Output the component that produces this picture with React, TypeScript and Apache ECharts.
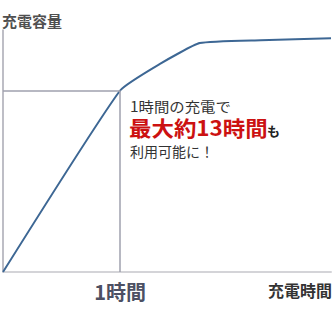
import React, { useEffect, useRef } from "react";
import * as echarts from "echarts";

const hours = [0, 1, 1.34, 1.68, 2.2, 2.8];
const capacity = [0, 75, 86, 94.6, 95.8, 96.6];
const markHour = 1;
const markCapacity = 75;
const xTickLabels: Record<number, string> = { 1: "1時間" };
const yAxisTitle = "充電容量";
const xAxisTitle = "充電時間";
const noteLine1 = "1時間の充電で";
const noteHighlight = "最大約13時間";
const noteTail = "も";
const noteLine3 = "利用可能に！";

export default function App() {
  const ref = useRef<HTMLDivElement>(null);
  useEffect(() => {
    if (!ref.current) return;
    const chart = echarts.init(ref.current, undefined, { renderer: "svg" });
    const font = "'Noto Sans CJK JP', 'Noto Sans', sans-serif";
    const txt = (x: number, y: number, text: string, f: string, fill: string, scaleX = 1) => ({
      type: "text",
      x,
      y,
      scaleX,
      style: { text, font: f, fill, align: "left", verticalAlign: "middle" },
    });
    chart.setOption({
      animation: false,
      grid: { left: 2, right: 0, top: 30, bottom: 38 },
      xAxis: {
        type: "value",
        min: 0,
        max: 2.8,
        interval: 1,
        axisLine: { show: true, lineStyle: { color: "#d4d4d8", width: 2 } },
        axisTick: { show: false },
        splitLine: { show: false },
        axisLabel: {
          formatter: (v: number) => xTickLabels[v] ?? "",
          fontFamily: font,
          fontSize: 20,
          fontWeight: "bold",
          color: "#4d5063",
          margin: 9,
        },
      },
      yAxis: {
        type: "value",
        min: 0,
        max: 100,
        axisLine: { show: true, lineStyle: { color: "#a9a9b3", width: 1.5 } },
        axisTick: { show: false },
        axisLabel: { show: false },
        splitLine: { show: false },
      },
      series: [
        {
          type: "line",
          data: hours.map((h, i) => [h, capacity[i]]),
          showSymbol: false,
          smooth: 0.15,
          lineStyle: { color: "#3d6794", width: 2 },
          markLine: {
            silent: true,
            symbol: "none",
            label: { show: false },
            lineStyle: { color: "#9fa0ae", width: 1.5, type: "solid" },
            data: [
              [{ coord: [0, markCapacity] }, { coord: [markHour, markCapacity] }],
              [{ coord: [markHour, 0] }, { coord: [markHour, markCapacity] }],
            ],
          },
        },
      ],
      graphic: [
        txt(2, 20, yAxisTitle, `bold 15px ${font}`, "#505050"),
        txt(268, 290, xAxisTitle, `bold 16px ${font}`, "#333333"),
        txt(130, 106, noteLine1, `14px ${font}`, "#333333", 1.1),
        txt(129, 127, noteHighlight, `bold 21px ${font}`, "#cc1111", 1.07),
        txt(267, 130, noteTail, `bold 13px ${font}`, "#222222"),
        txt(130, 151, noteLine3, `14px ${font}`, "#333333"),
      ],
    });
    return () => chart.dispose();
  }, []);
  return <div ref={ref} style={{ width: 334, height: 310, position: "absolute", left: 0, top: 0 }} />;
}
